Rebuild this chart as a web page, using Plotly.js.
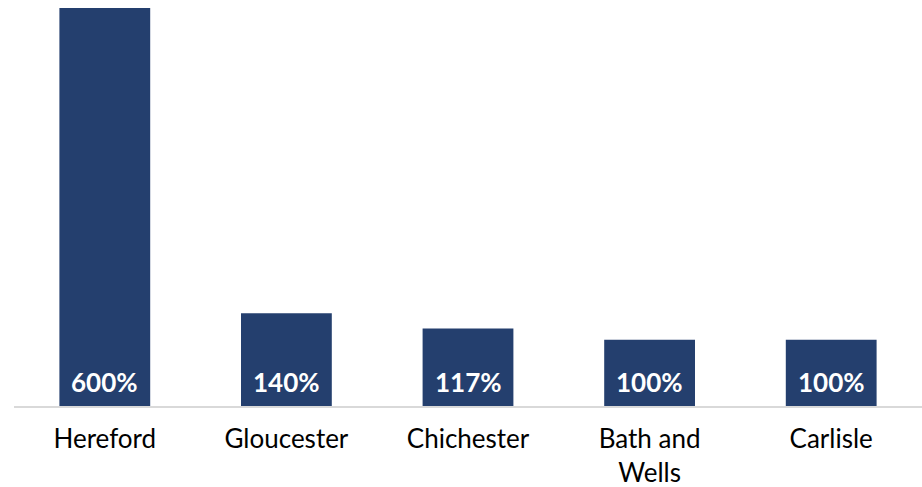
<!DOCTYPE html>
<html>
<head>
<meta charset="utf-8">
<script src="https://cdn.plot.ly/plotly-3.0.1.min.js"></script>
<style>html,body{margin:0;padding:0;background:#fff;}#chart{width:922px;height:487px;}</style>
</head>
<body>
<div id="chart"></div>
<script>
var categories = ["Hereford", "Gloucester", "Chichester", "Bath and<br>Wells", "Carlisle"];
var values = [600, 140, 117, 100, 100];
var valueLabels = ["600%", "140%", "117%", "100%", "100%"];

var trace = {
  type: "bar",
  x: categories,
  y: values,
  marker: {color: "#243F6E"},
  hoverinfo: "none"
};

var annotations = categories.map(function (c, i) {
  return {
    x: c, y: 0, xref: "x", yref: "y",
    yanchor: "bottom", xanchor: "center",
    yshift: 6,
    text: "<b>" + valueLabels[i] + "</b>",
    showarrow: false,
    font: {family: "Lato, sans-serif", size: 26, color: "#ffffff"}
  };
});

var layout = {
  width: 922, height: 487,
  margin: {l: 14, r: 0, t: 8, b: 81},
  paper_bgcolor: "#ffffff", plot_bgcolor: "#ffffff",
  bargap: 0.5,
  showlegend: false,
  xaxis: {
    showline: true, linecolor: "#d9d9d9", linewidth: 1.5,
    ticks: "", showgrid: false, zeroline: false,
    tickfont: {family: "Lato, sans-serif", size: 26, color: "#000000"},
    ticklabelstandoff: 9
  },
  yaxis: {
    visible: false, range: [0, 600], fixedrange: true
  },
  annotations: annotations
};

Plotly.newPlot("chart", [trace], layout, {displayModeBar: false, staticPlot: true});
</script>
</body>
</html>
